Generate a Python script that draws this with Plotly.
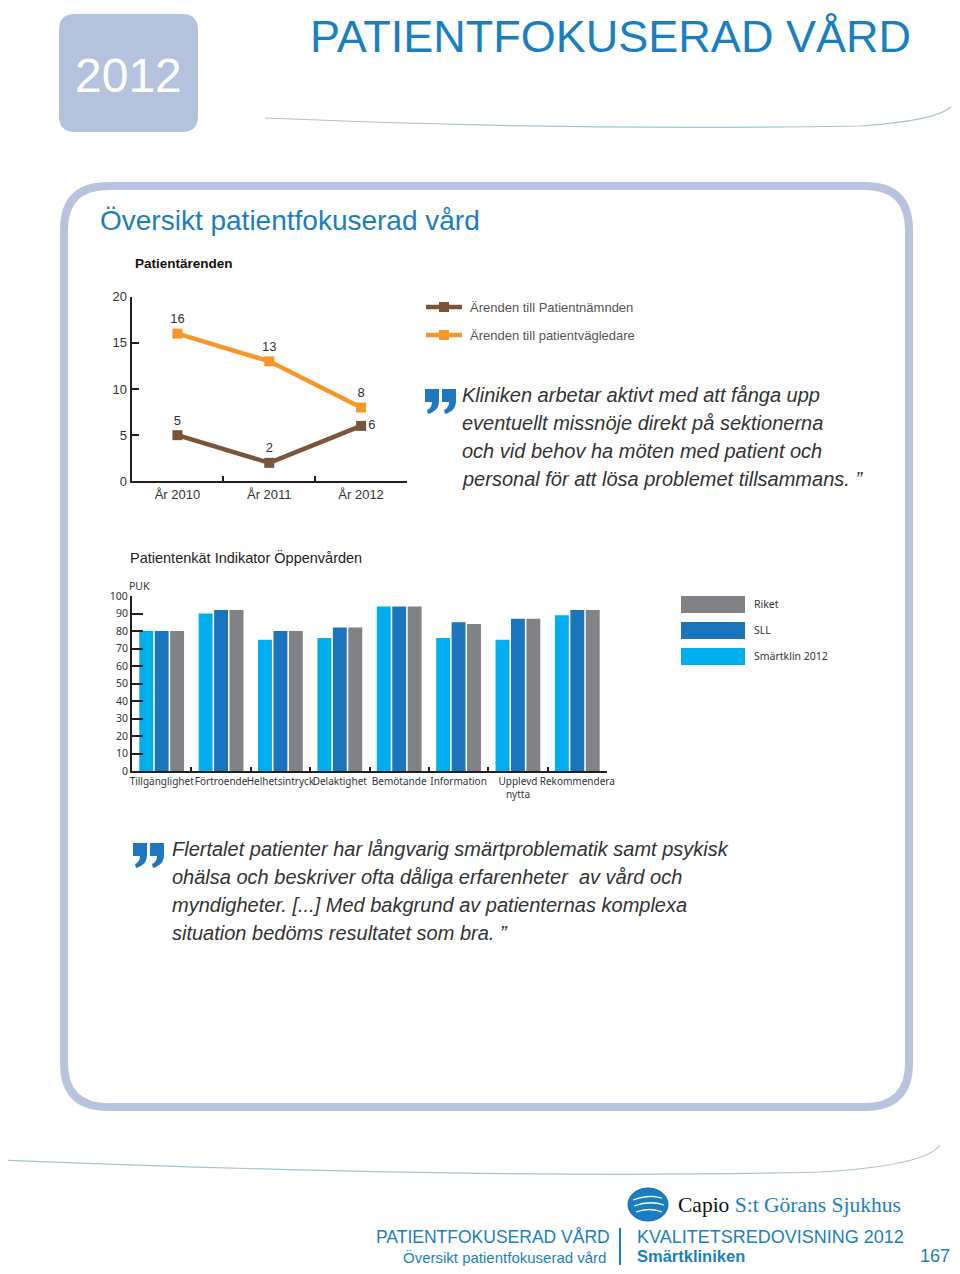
import plotly.graph_objects as go

# page is 960x1274; the browser body keeps its default 8px margin,
# so the figure is 944x1258 and all page coordinates are shifted by 8px.
PAGE_W, PAGE_H = 960, 1274
OFF = 8
W, H = PAGE_W - 2 * OFF, PAGE_H - 2 * OFF

# ---------------- data ----------------
years = ["År 2010", "År 2011", "År 2012"]
patientnamnden = [5, 2, 6]
patientvagledare = [16, 13, 8]
line_names = ["Ärenden till Patientnämnden", "Ärenden till patientvägledare"]
line_colors = ["#7a5539", "#f7962a"]

indicators = ["Tillgänglighet", "Förtroende", "Helhetsintryck", "Delaktighet",
              "Bemötande", "Information", "Upplevd<br>nytta", "Rekommendera"]
smartklin_2012 = [80, 90, 75, 76, 94, 76, 75, 89]
sll = [80, 92, 80, 82, 94, 85, 87, 92]
riket = [80, 92, 80, 82, 94, 84, 87, 92]
bar_names = ["Smärtklin 2012", "SLL", "Riket"]
bar_colors = ["#00adef", "#1b75bc", "#808285"]

line_yticks = [0, 5, 10, 15, 20]
bar_yticks = list(range(0, 101, 10))

BLUE = "#1a7fc1"
FRAME = "#b8c4de"
TXT = "#333333"
SANS = "Liberation Sans, Arial"
MYR = "Noto Sans, Open Sans"


def px(x):
    return (x - OFF) / W


def py(y):
    return 1 - (y - OFF) / H


def path(cmds):
    out = []
    for c, pts in cmds:
        coords = []
        for i in range(0, len(pts), 2):
            coords.append(f"{px(pts[i]):.5f},{py(pts[i+1]):.5f}")
        out.append(c + " " + " ".join(coords))
    return " ".join(out)


def rounded_rect(x0, y0, x1, y1, r):
    return path([
        ("M", [x0 + r, y0]), ("L", [x1 - r, y0]), ("Q", [x1, y0, x1, y0 + r]),
        ("L", [x1, y1 - r]), ("Q", [x1, y1, x1 - r, y1]), ("L", [x0 + r, y1]),
        ("Q", [x0, y1, x0, y1 - r]), ("L", [x0, y0 + r]), ("Q", [x0, y0, x0 + r, y0]),
    ]) + " Z"


fig = go.Figure()

# ---------------- line chart ----------------
for name, vals, col, tpos in [
    (line_names[0], patientnamnden, line_colors[0], ["top center", "top center", "middle right"]),
    (line_names[1], patientvagledare, line_colors[1], ["top center", "top center", "top center"]),
]:
    fig.add_trace(go.Scatter(
        x=years, y=vals, name=name, mode="lines+markers+text",
        line=dict(color=col, width=4.5),
        marker=dict(symbol="square", size=10, color=col),
        text=[str(v) for v in vals], textposition=tpos,
        textfont=dict(family=SANS, size=13, color=TXT),
        showlegend=False, cliponaxis=False,
        xaxis="x", yaxis="y",
    ))

# ---------------- bar chart ----------------
for name, vals, col in zip(bar_names, [smartklin_2012, sll, riket], bar_colors):
    fig.add_trace(go.Bar(
        x=indicators, y=vals, name=name, marker=dict(color=col, line=dict(width=0)),
        showlegend=False, xaxis="x2", yaxis="y2",
    ))

axis_common = dict(showline=True, linecolor="#231f20", showgrid=False, zeroline=False,
                   ticks="inside", tickcolor="#231f20", fixedrange=True, tickangle=0,
                   automargin=False)

fig.update_layout(
    width=W, height=H, margin=dict(l=0, r=0, t=0, b=0, autoexpand=False),
    paper_bgcolor="white", plot_bgcolor="rgba(0,0,0,0)",
    barmode="group", bargap=0.22, bargroupgap=0.1,
    xaxis=dict(domain=[px(131.5), px(407)], range=[-0.5, 2.5], type="category",
               tickson="boundaries", ticklen=5, tickwidth=1.5, linewidth=2, anchor="y",
               tickfont=dict(family=SANS, size=13, color=TXT), **axis_common),
    yaxis=dict(domain=[py(481.3), py(296.7)], range=[0, 20], tickvals=line_yticks,
               ticklen=7, tickwidth=1.5, linewidth=2, anchor="x",
               tickfont=dict(family=SANS, size=13, color=TXT), **axis_common),
    xaxis2=dict(domain=[px(132), px(607)], range=[-0.5, 7.5], type="category",
                tickson="boundaries", ticklen=4, tickwidth=1.5, linewidth=2, anchor="y2",
                tickfont=dict(family=MYR, size=10, color=TXT), **axis_common),
    yaxis2=dict(domain=[py(771.3), py(596)], range=[0, 100], tickvals=bar_yticks,
                ticklen=11, tickwidth=1.5, linewidth=2, anchor="x2",
                tickfont=dict(family=MYR, size=10.5, color=TXT), **axis_common),
)

shapes = []
ann = []


def text(x, y, t, size, color=TXT, family=SANS, xanchor="left", yanchor="middle"):
    ann.append(dict(x=px(x), y=py(y), xref="paper", yref="paper", text=t, showarrow=False,
                    font=dict(family=family, size=size, color=color),
                    xanchor=xanchor, yanchor=yanchor))


# year box
shapes.append(dict(type="path", xref="paper", yref="paper",
                   path=rounded_rect(59, 14, 198, 132, 16),
                   fillcolor="#b4c2dd", line=dict(width=0), layer="below"))
text(128, 75, "2012", 48, "white", xanchor="center")

# title
text(913, 36, "PATIENTFOKUSERAD VÅRD", 45, BLUE, xanchor="right")

# swooshes
shapes.append(dict(type="path", xref="paper", yref="paper",
                   path=path([("M", [265, 118]), ("Q", [560, 131, 860, 126]),
                              ("Q", [935, 121, 951, 107])]),
                   line=dict(color="#a9c3cf", width=1.2)))
shapes.append(dict(type="path", xref="paper", yref="paper",
                   path=path([("M", [0, 1160]), ("Q", [500, 1180, 820, 1172]),
                              ("Q", [925, 1166, 940, 1145])]),
                   line=dict(color="#a9c3cf", width=1.2)))

# frame
shapes.append(dict(type="path", xref="paper", yref="paper",
                   path=rounded_rect(64, 186, 909, 1107, 44),
                   fillcolor="rgba(0,0,0,0)", line=dict(color=FRAME, width=8), layer="below"))

text(98, 221, "Översikt patientfokuserad vård", 28, BLUE)
text(133, 263, "<b>Patientärenden</b>", 13.5, "#111111")

# line legend
for i, (nm, col) in enumerate(zip(line_names, line_colors)):
    yy = 307 + 28 * i
    shapes.append(dict(type="line", xref="paper", yref="paper",
                       x0=px(426), x1=px(462), y0=py(yy), y1=py(yy),
                       line=dict(color=col, width=4.5)))
    shapes.append(dict(type="rect", xref="paper", yref="paper",
                       x0=px(439), x1=px(449), y0=py(yy - 5), y1=py(yy + 5),
                       fillcolor=col, line=dict(width=0)))
    text(468, yy, nm, 13, "#555555")


def quote_mark(x0, y0):
    for dx in (0, 17):
        x = x0 + dx
        shapes.append(dict(type="path", xref="paper", yref="paper",
                           path=path([("M", [x, y0]), ("L", [x + 14, y0]), ("L", [x + 14, y0 + 12]),
                                      ("C", [x + 14, y0 + 19, x + 10, y0 + 23, x + 3, y0 + 25]),
                                      ("L", [x + 2, y0 + 21]),
                                      ("C", [x + 5, y0 + 20, x + 7, y0 + 17, x + 7, y0 + 13]),
                                      ("L", [x, y0 + 13])]) + " Z",
                           fillcolor="#1f77c0", line=dict(width=0)))


quote1 = ["Kliniken arbetar aktivt med att fånga upp",
          "eventuellt missnöje direkt på sektionerna",
          "och vid behov ha möten med patient och",
          "personal för att lösa problemet tillsammans. ”"]
quote2 = ["Flertalet patienter har långvarig smärtproblematik samt psykisk",
          "ohälsa och beskriver ofta dåliga erfarenheter  av vård och",
          "myndigheter. [...] Med bakgrund av patienternas komplexa",
          "situation bedöms resultatet som bra. ”"]

quote_mark(425, 389)
for i, t in enumerate(quote1):
    text(460, 395 + 28 * i, f"<i>{t}</i>", 20)
quote_mark(133, 843)
for i, t in enumerate(quote2):
    text(170, 849 + 28 * i, f"<i>{t}</i>", 20)

# bar chart title / axis title
text(128, 558, "Patientenkät Indikator Öppenvården", 14.5, "#222222")
text(127, 586, "PUK", 10.5, family=MYR)

# bar legend (Riket, SLL, Smärtklin 2012 from top)
for i, idx in enumerate([2, 1, 0]):
    y0 = 596 + 26 * i
    shapes.append(dict(type="rect", xref="paper", yref="paper",
                       x0=px(681), x1=px(745), y0=py(y0), y1=py(y0 + 17),
                       fillcolor=bar_colors[idx], line=dict(width=0)))
    text(752, y0 + 8, bar_names[idx], 10.5, family=MYR)

# footer (kept inside the drawable area that ends 8px above the page bottom)
text(612, 1237, "PATIENTFOKUSERAD VÅRD", 17.5, BLUE, xanchor="right")
text(608, 1257, "Översikt patientfokuserad vård", 15, BLUE, xanchor="right")
shapes.append(dict(type="line", xref="paper", yref="paper", x0=px(620), x1=px(620),
                   y0=py(1228), y1=py(1265), line=dict(color=BLUE, width=2)))
text(635, 1237, "KVALITETSREDOVISNING 2012", 18, BLUE)
text(635, 1256, "<b>Smärtkliniken</b>", 16.5, BLUE)
text(952, 1256, "167", 18, BLUE, xanchor="right")

# Capio logo
shapes.append(dict(type="circle", xref="paper", yref="paper",
                   x0=px(628), x1=px(668), y0=py(1188), y1=py(1221),
                   fillcolor="#1a7cc1", line=dict(color="#1566a8", width=1)))
for (a, b, c, d, e, f) in [(633, 1200, 648, 1194, 662, 1198), (634, 1206, 650, 1200, 664, 1205),
                           (636, 1212, 650, 1207, 662, 1212)]:
    shapes.append(dict(type="path", xref="paper", yref="paper",
                       path=path([("M", [a, b]), ("Q", [c, d, e, f])]),
                       line=dict(color="white", width=1.3)))
text(676, 1205, "<span style='color:#111111'>Capio</span> S:t Görans Sjukhus", 21.5, BLUE,
     family="Liberation Serif, Times New Roman")

fig.update_layout(shapes=shapes, annotations=ann)

fig.write_html("out.html", config={"displayModeBar": False})
